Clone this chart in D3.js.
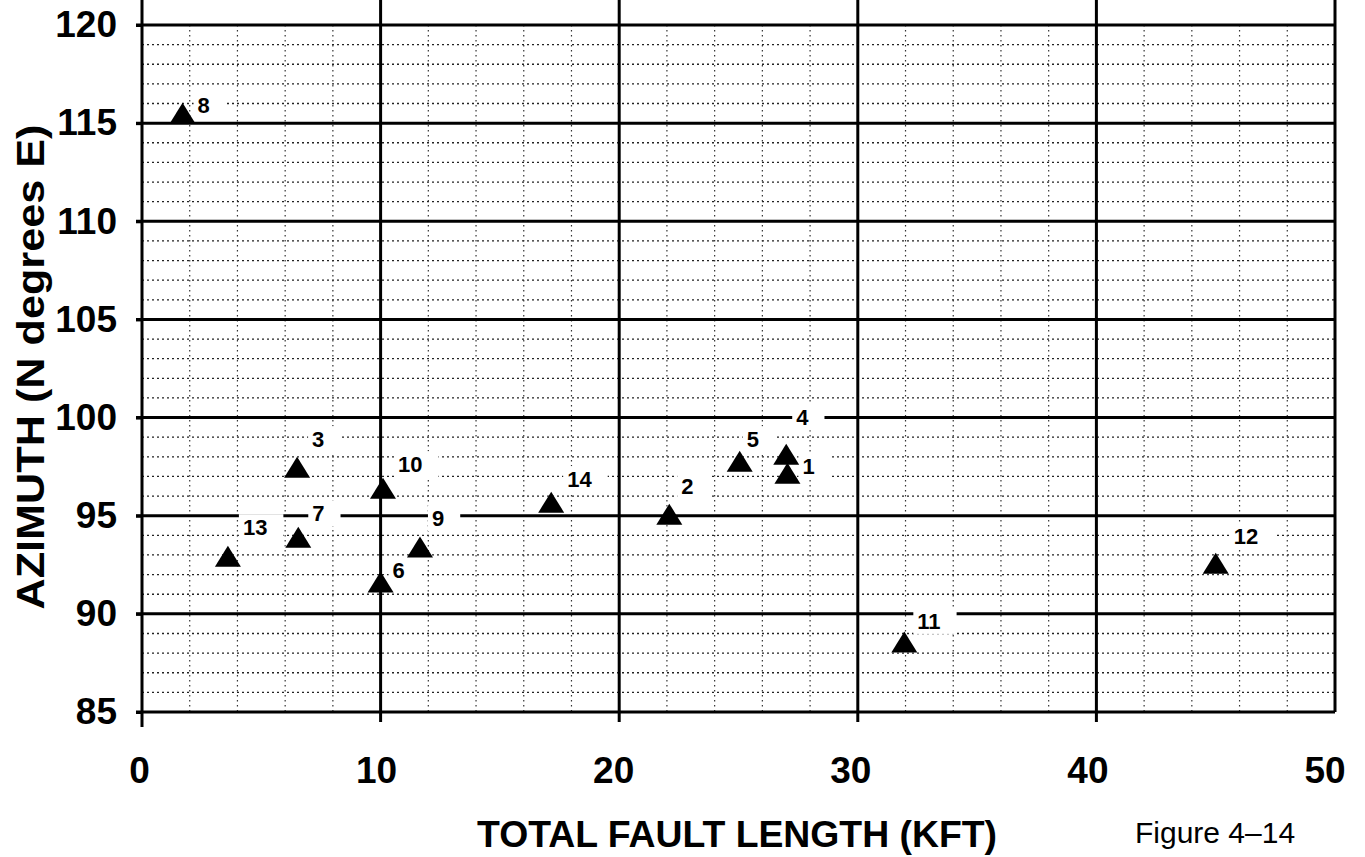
<!DOCTYPE html>
<html lang="en">
<head>
<meta charset="UTF-8">
<title>Figure 4-14</title>
<script src="https://d3js.org/d3.v7.min.js"></script>
<style>
  body { margin: 0; background: #fff; }
  svg { display: block; font-family: "Liberation Sans", Arial, Helvetica, sans-serif; }
</style>
</head>
<body>
<svg id="chart" width="1365" height="857"></svg>
<script>
// fault number, total length (kft), azimuth (N deg E)
const faultIds    = [1, 2, 3, 4, 5, 6, 7, 8, 9, 10, 11, 12, 13, 14];
const faultLength = [27.05, 22.1, 6.5, 27.0, 25.05, 10.0, 6.55, 1.7, 11.65, 10.1, 31.95, 45.0, 3.6, 17.15];
const azimuth     = [97.16, 95.08, 97.47, 98.13, 97.77, 91.62, 93.9, 115.5, 93.4, 96.4, 88.57, 92.58, 92.94, 95.69];

const xTicks = [0, 10, 20, 30, 40, 50];
const yTicks = [85, 90, 95, 100, 105, 110, 115, 120];

const xTitle = "TOTAL FAULT LENGTH (KFT)";
const yTitle = "AZIMUTH (N degrees E)";
const figLabel = "Figure 4\u201314";

// label placement relative to the marker (layout only)
const labelOffsets = [[15,-7],[12,-28],[15,-28],[10,-37],[7,-22],[12,-12],[14,-24],
                      [15,-8],[12,-29],[15,-24],[13,-21],[18,-27],[15,-29],[16,-23]];

const svg = d3.select("#chart");
const x = d3.scaleLinear().domain([0, 50]).range([142, 1335]);
const y = d3.scaleLinear().domain([85, 120]).range([712, 25]);

const points = faultIds.map((id, i) => ({ id: id, len: faultLength[i], az: azimuth[i], off: labelOffsets[i] }));

// minor grid
const minorY = d3.range(86, 120).filter(v => v % 5 !== 0);
const minorX = d3.range(2, 50, 2).filter(v => v % 10 !== 0);

svg.append("g").selectAll("line").data(minorY).join("line")
    .attr("x1", x(0)).attr("x2", x(50))
    .attr("y1", d => y(d)).attr("y2", d => y(d))
    .attr("stroke", "#222").attr("stroke-width", 1.3)
    .attr("stroke-dasharray", "2,3");

svg.append("g").selectAll("line").data(minorX).join("line")
    .attr("x1", d => x(d)).attr("x2", d => x(d))
    .attr("y1", y(120)).attr("y2", y(85))
    .attr("stroke", "#333").attr("stroke-width", 1.2)
    .attr("stroke-dasharray", "1.5,3.5");

// major grid
svg.append("g").selectAll("line").data(yTicks).join("line")
    .attr("x1", x(0) - 6).attr("x2", x(50))
    .attr("y1", d => y(d)).attr("y2", d => y(d))
    .attr("stroke", "#000").attr("stroke-width", 3);

svg.append("g").selectAll("line").data(xTicks).join("line")
    .attr("x1", d => x(d)).attr("x2", d => x(d))
    .attr("y1", 0).attr("y2", d => d === 50 ? y(85) : y(85) + (d === 0 ? 15 : 10))
    .attr("stroke", "#000").attr("stroke-width", 3);

// data labels with white boxes
const labels = svg.append("g").selectAll("g").data(points).join("g")
    .attr("transform", d => `translate(${x(d.len) + d.off[0]},${y(d.az) + d.off[1]})`);

labels.append("rect")
    .attr("fill", "#fff");

labels.append("text")
    .attr("dy", "0.36em")
    .attr("font-size", 22)
    .attr("font-weight", "bold")
    .text(d => d.id);

labels.each(function () {
    const g = d3.select(this);
    const w = g.select("text").node().getComputedTextLength();
    g.select("rect").attr("x", -4).attr("y", -13).attr("width", w + 20).attr("height", 26);
});

// markers
svg.append("g").selectAll("path").data(points).join("path")
    .attr("transform", d => `translate(${x(d.len)},${y(d.az)})`)
    .attr("d", "M0,-10.5L13,10.5L-13,10.5Z")
    .attr("fill", "#000");

// axis labels
const yAxis = svg.append("g")
    .attr("transform", `translate(${x(0)},0)`)
    .call(d3.axisLeft(y).tickValues(yTicks).tickSizeInner(6).tickSizeOuter(0).tickPadding(19));
yAxis.select(".domain").remove();
yAxis.selectAll("line").attr("stroke-width", 3);
yAxis.selectAll("text")
    .attr("font-family", "Liberation Sans, Arial, sans-serif")
    .attr("font-size", 37).attr("font-weight", "bold").attr("fill", "#000");

const xAxis = svg.append("g")
    .attr("transform", `translate(0,${y(85)})`)
    .call(d3.axisBottom(x).tickValues(xTicks).tickSize(0).tickPadding(45));
xAxis.select(".domain").remove();
xAxis.selectAll("text")
    .attr("font-family", "Liberation Sans, Arial, sans-serif")
    .attr("font-size", 37).attr("font-weight", "bold").attr("fill", "#000")
    .attr("dx", d => -3 - 0.15 * d);

// titles
svg.append("text")
    .attr("x", 737).attr("y", 847)
    .attr("text-anchor", "middle")
    .attr("font-size", 37).attr("font-weight", "bold")
    .attr("textLength", 520).attr("lengthAdjust", "spacingAndGlyphs")
    .text(xTitle);

svg.append("text")
    .attr("transform", "translate(44,367) rotate(-90)")
    .attr("text-anchor", "middle")
    .attr("font-size", 38).attr("font-weight", "bold")
    .attr("textLength", 485).attr("lengthAdjust", "spacingAndGlyphs")
    .text(yTitle);

svg.append("text")
    .attr("x", 1135).attr("y", 843)
    .attr("font-size", 30)
    .text(figLabel);
</script>
</body>
</html>
